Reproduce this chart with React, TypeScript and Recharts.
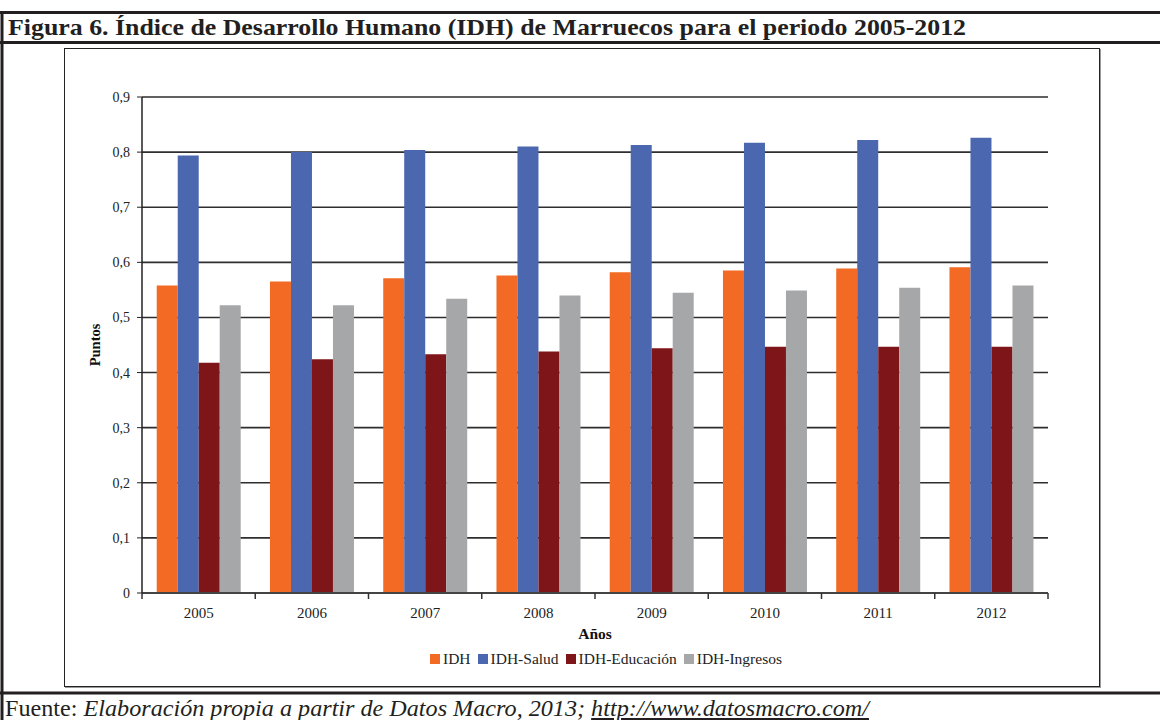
import { BarChart, Bar, XAxis, YAxis, CartesianGrid, Legend } from "recharts";

const years = ["2005", "2006", "2007", "2008", "2009", "2010", "2011", "2012"];
const seriesNames = ["IDH", "IDH-Salud", "IDH-Educación", "IDH-Ingresos"];
const idh = [0.558, 0.565, 0.571, 0.576, 0.582, 0.585, 0.589, 0.591];
const idhSalud = [0.794, 0.8, 0.804, 0.81, 0.813, 0.817, 0.822, 0.826];
const idhEducacion = [0.418, 0.424, 0.433, 0.438, 0.444, 0.447, 0.447, 0.447];
const idhIngresos = [0.522, 0.522, 0.534, 0.54, 0.545, 0.549, 0.554, 0.558];
const yTicks = [0, 0.1, 0.2, 0.3, 0.4, 0.5, 0.6, 0.7, 0.8, 0.9];

const data = years.map((year, i) => ({
  year,
  idh: idh[i],
  salud: idhSalud[i],
  educacion: idhEducacion[i],
  ingresos: idhIngresos[i],
}));

const FONT = "'Liberation Serif', 'DejaVu Serif', serif";
const INK = "#231f20";

const fmtComma = (v: number) => (v === 0 ? "0" : v.toFixed(1).replace(".", ","));

// year label + Excel-style tick marks on the category boundaries
const YearTick = (props: any) => {
  const { x, y, payload, index, visibleTicksCount, width } = props;
  const half = payload.offset ?? width / years.length / 2;
  const axisY = y - 8;
  return (
    <g>
      <line x1={x - half} x2={x - half} y1={axisY} y2={axisY + 6} stroke="#333" strokeWidth={1.5} />
      {index === visibleTicksCount - 1 && (
        <line x1={x + half} x2={x + half} y1={axisY} y2={axisY + 6} stroke="#333" strokeWidth={1.5} />
      )}
      <text x={x} y={axisY + 20} textAnchor="middle" dominantBaseline="central" fontSize={15} fill="#222" fontFamily={FONT}>
        {payload.value}
      </text>
    </g>
  );
};

const LegendContent = ({ payload }: any) => {
  const items = [...(payload ?? [])].sort(
    (a: any, b: any) => seriesNames.indexOf(a.value) - seriesNames.indexOf(b.value)
  );
  return (
    <div style={{ display: "flex", height: 16, alignItems: "center", marginLeft: 366, fontFamily: FONT, fontSize: 15.5, color: "#222" }}>
      {items.map((entry: any) => (
        <div key={entry.value} style={{ display: "flex", alignItems: "center", marginRight: 7 }}>
          <span style={{ width: 10, height: 10, background: entry.color, marginRight: 3, display: "inline-block" }} />
          <span>{entry.value}</span>
        </div>
      ))}
    </div>
  );
};

const PuntosLabel = ({ viewBox }: any) => {
  const cx = viewBox.x + 31;
  const cy = viewBox.y + viewBox.height / 2;
  return (
    <text x={cx} y={cy} transform={`rotate(-90 ${cx} ${cy})`} textAnchor="middle" dominantBaseline="central" fontSize={14.5} fontWeight="bold" fill="#111" fontFamily={FONT}>
      Puntos
    </text>
  );
};

export default function App() {
  return (
    <div style={{ position: "fixed", left: 0, top: 0, width: 1160, height: 720, background: "#fff", overflow: "hidden", fontFamily: FONT }}>
      <svg width={1160} height={720} style={{ position: "absolute", left: 0, top: 0 }}>
        <line x1={0} x2={1160} y1={12.5} y2={12.5} stroke={INK} strokeWidth={3} />
        <line x1={0} x2={1160} y1={42.5} y2={42.5} stroke={INK} strokeWidth={3} />
        <line x1={0} x2={1160} y1={693} y2={693} stroke={INK} strokeWidth={3} />
        <line x1={2} x2={2} y1={11} y2={720} stroke={INK} strokeWidth={3} />
        <text x={8} y={35} fontSize={23} fontWeight="bold" fill={INK} fontFamily={FONT} textLength={958} lengthAdjust="spacingAndGlyphs">
          Figura 6. Índice de Desarrollo Humano (IDH) de Marruecos para el periodo 2005-2012
        </text>
        <text x={5} y={716} fontSize={24} fill={INK} fontFamily={FONT} textLength={864} lengthAdjust="spacingAndGlyphs">
          Fuente: <tspan fontStyle="italic">Elaboración propia a partir de Datos Macro, 2013; </tspan>
          <tspan fontStyle="italic" textDecoration="underline" style={{ textDecoration: "underline" }}>http://www.datosmacro.com/</tspan>
        </text>
      </svg>
      <div style={{ position: "absolute", left: 64, top: 48, width: 1036, height: 639, boxSizing: "border-box", border: "1.5px solid #222", boxShadow: "1px 1px 0 #999" }} />
      <div style={{ position: "absolute", left: 64, top: 48 }}>
        <BarChart
          width={1036}
          height={639}
          data={data}
          margin={{ top: 49, right: 52, left: 0, bottom: 20 }}
          barCategoryGap="13%"
          barGap={0}
          style={{ fontFamily: FONT }}
        >
          <CartesianGrid vertical={false} stroke="#2e2e2e" strokeWidth={1.6} />
          <XAxis
            dataKey="year"
            height={58}
            tick={<YearTick />}
            tickLine={false}
            interval={0}
            axisLine={{ stroke: "#444", strokeWidth: 2 }}
            label={{ value: "Años", position: "insideBottom", offset: 12, fontSize: 15.5, fontWeight: "bold", fill: "#111", fontFamily: FONT }}
          />
          <YAxis
            width={78}
            domain={[0, 0.9]}
            ticks={yTicks}
            interval={0}
            tickFormatter={fmtComma}
            tickSize={5}
            tickMargin={7}
            tick={{ fontSize: 14, fill: "#222", fontFamily: FONT }}
            tickLine={{ stroke: "#222" }}
            axisLine={{ stroke: "#222", strokeWidth: 1.5 }}
            label={<PuntosLabel />}
          />
          <YAxis yAxisId="frame" orientation="right" width={0} tick={false} tickLine={false} axisLine={{ stroke: "#8a8a8a", strokeWidth: 2 }} />
          <Legend verticalAlign="bottom" itemSorter={null as any} content={<LegendContent />} />
          <Bar dataKey="idh" name={seriesNames[0]} fill="#f26a23" isAnimationActive={false} />
          <Bar dataKey="salud" name={seriesNames[1]} fill="#4a67b0" isAnimationActive={false} />
          <Bar dataKey="educacion" name={seriesNames[2]} fill="#7e1519" isAnimationActive={false} />
          <Bar dataKey="ingresos" name={seriesNames[3]} fill="#a6a7a9" isAnimationActive={false} />
        </BarChart>
      </div>
    </div>
  );
}
